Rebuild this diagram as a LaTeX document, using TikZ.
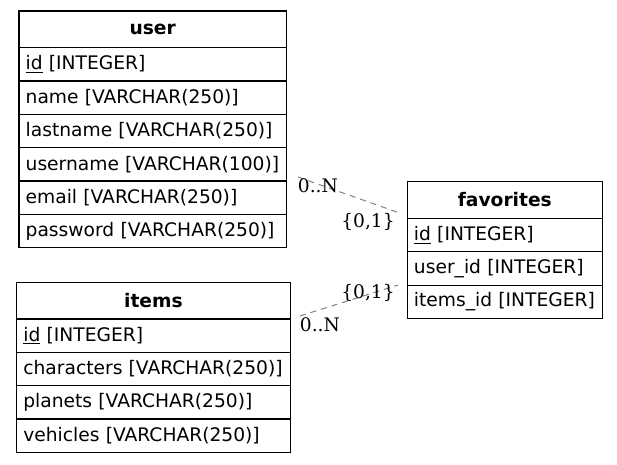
\documentclass[tikz,border=0pt]{standalone}
\usepackage{fontspec}
\setmainfont{DejaVu Sans}
\newfontfamily\cardfont{DejaVu Serif}
\usetikzlibrary{positioning}

\tikzset{
  thead/.style={draw, line width=0.8pt, outer sep=0pt, minimum width=#1, minimum height=27.5pt,
    inner sep=0pt, font=\fontsize{14}{17}\selectfont\bfseries},
  trow/.style={draw, line width=0.8pt, outer sep=0pt, text width=#1, minimum height=25pt,
    inner xsep=5pt, inner ysep=0pt, align=left, font=\fontsize{14}{17}\selectfont},
  rel/.style={draw=gray, line width=0.75pt, dash pattern=on 4.5pt off 3.75pt},
  card/.style={inner sep=0pt, font=\cardfont\fontsize{14}{17}\selectfont},
}

\begin{document}
\begin{tikzpicture}[x=0.75pt,y=-0.75pt]
    \useasboundingbox (0,0) rectangle (617,464);

    \node[thead=200.6pt, anchor=north west] (user) at (19,11) {user};
    \node[trow=190.6pt, below=0pt of user] (user-id) {\underline{id} [INTEGER]};
    \node[trow=190.6pt, below=0pt of user-id] (user-name) {name [VARCHAR(250)]};
    \node[trow=190.6pt, below=0pt of user-name] (user-lastname) {lastname [VARCHAR(250)]};
    \node[trow=190.6pt, below=0pt of user-lastname] (user-username) {username [VARCHAR(100)]};
    \node[trow=190.6pt, below=0pt of user-username] (user-email) {email [VARCHAR(250)]};
    \node[trow=190.6pt, below=0pt of user-email] (user-password) {password [VARCHAR(250)]};

    \node[thead=205.1pt, anchor=north west] (items) at (16.7,282.3) {items};
    \node[trow=195.1pt, below=0pt of items] (items-id) {\underline{id} [INTEGER]};
    \node[trow=195.1pt, below=0pt of items-id] (items-characters) {characters [VARCHAR(250)]};
    \node[trow=195.1pt, below=0pt of items-characters] (items-planets) {planets [VARCHAR(250)]};
    \node[trow=195.1pt, below=0pt of items-planets] (items-vehicles) {vehicles [VARCHAR(250)]};

    \node[thead=146.25pt, anchor=north west] (fav) at (407.3,181.7) {favorites};
    \node[trow=136.25pt, below=0pt of fav] (fav-id) {\underline{id} [INTEGER]};
    \node[trow=136.25pt, below=0pt of fav-id] (fav-userid) {user\_id [INTEGER]};
    \node[trow=136.25pt, below=0pt of fav-userid] (fav-itemsid) {items\_id [INTEGER]};

    \coordinate (r1a) at ([shift={(11.5,-4)}]user-email.north east);
    \coordinate (r1b) at ([shift={(-10.3,-6.3)}]fav-id.north west);
    \coordinate (r2a) at ([shift={(9.8,-3)}]items-id.north east);
    \coordinate (r2b) at ([shift={(-9.3,0)}]fav-itemsid.north west);
    \draw[rel] (r1a) -- (r1b);
    \draw[rel] (r2a) -- (r2b);

    \node[card] (r1a-card) at ([shift={(20,9)}]r1a) {0..N};
    \node[card] (r1b-card) at ([shift={(-29,10)}]r1b) {\{0,1\}};
    \node[card] (r2b-card) at ([shift={(-30,8)}]r2b) {\{0,1\}};
    \node[card] (r2a-card) at ([shift={(20,9)}]r2a) {0..N};
\end{tikzpicture}
\end{document}
